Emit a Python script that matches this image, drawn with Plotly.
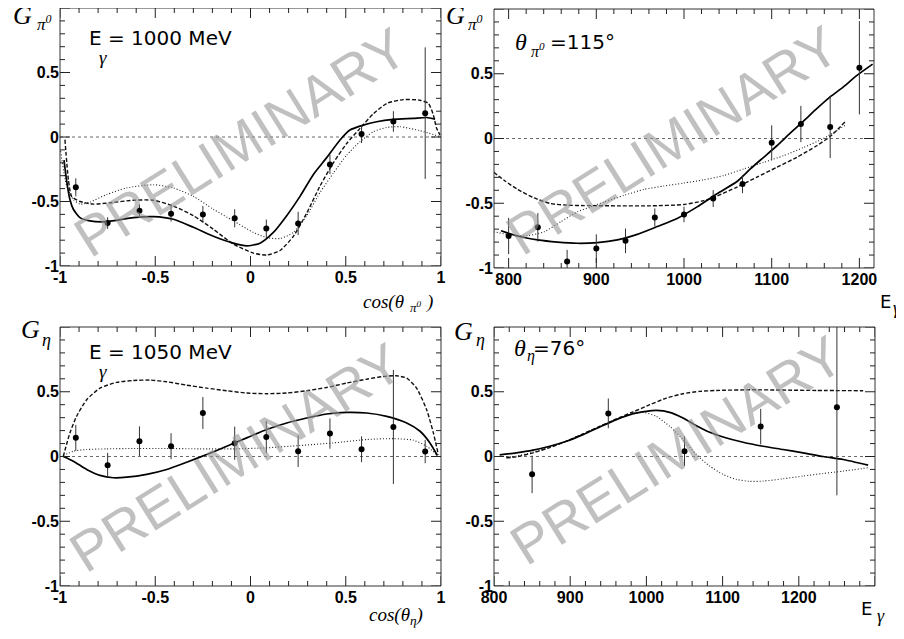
import plotly.graph_objects as go

W, H = 904, 639
OFF = 8  # page body margin offset

# ---------------- data ----------------
cos_bins = [-0.917, -0.75, -0.583, -0.417, -0.25, -0.083, 0.083, 0.25, 0.417, 0.583, 0.75, 0.917]

# Panel 1: G_pi0 vs cos(theta), E = 1000 MeV
p1_y = [-0.39, -0.667, -0.572, -0.595, -0.60, -0.63, -0.71, -0.67, -0.213, 0.023, 0.12, 0.185]
p1_err = [0.07, 0.045, 0.05, 0.06, 0.065, 0.07, 0.07, 0.09, 0.075, 0.07, 0.08, 0.51]
p1_solid_x = [-0.979, -0.965, -0.948, -0.930, -0.895, -0.843, -0.752, -0.615, -0.510, -0.405, -0.300, -0.195,
              -0.090, -0.020, 0.050, 0.120, 0.190, 0.260, 0.330, 0.400, 0.470, 0.522, 0.592, 0.662, 0.750,
              0.855, 0.925, 0.969]
p1_solid_y = [-0.18, -0.34, -0.485, -0.56, -0.625, -0.65, -0.656, -0.625, -0.618, -0.638, -0.70, -0.77,
              -0.823, -0.844, -0.823, -0.74, -0.61, -0.46, -0.29, -0.16, -0.023, 0.054, 0.092, 0.118, 0.136,
              0.144, 0.151, 0.138]
p1_dash_x = [-0.974, -0.956, -0.939, -0.895, -0.825, -0.738, -0.615, -0.510, -0.405, -0.300, -0.195, -0.090,
             0.015, 0.085, 0.155, 0.225, 0.295, 0.365, 0.435, 0.505, 0.575, 0.645, 0.715, 0.802, 0.890,
             0.934, 0.960, 0.977, 0.995]
p1_dash_y = [-0.02, -0.33, -0.46, -0.50, -0.52, -0.51, -0.49, -0.49, -0.535, -0.61, -0.715, -0.83,
             -0.90, -0.915, -0.88, -0.77, -0.59, -0.38, -0.20, -0.05, 0.067, 0.18, 0.26, 0.29, 0.285,
             0.26, 0.17, 0.067, 0.015]
p1_dot_x = [-0.997, -0.965, -0.930, -0.895, -0.843, -0.755, -0.650, -0.510, -0.405, -0.300, -0.195, -0.090,
            0.015, 0.085, 0.155, 0.225, 0.295, 0.365, 0.435, 0.505, 0.575, 0.645, 0.715, 0.785, 0.890, 0.995]
p1_dot_y = [-0.11, -0.38, -0.485, -0.52, -0.505, -0.446, -0.395, -0.37, -0.395, -0.46, -0.56, -0.65,
            -0.74, -0.78, -0.787, -0.74, -0.61, -0.43, -0.28, -0.14, -0.036, 0.041, 0.074, 0.08, 0.049, 0.003]

# Panel 2: G_pi0 vs E_gamma, theta = 115 deg
p2_x = [800, 833.3, 866.7, 900, 933.3, 966.7, 1000, 1033.3, 1066.7, 1100, 1133.3, 1166.7, 1200]
p2_y = [-0.753, -0.686, -0.95, -0.85, -0.79, -0.61, -0.587, -0.464, -0.352, -0.033, 0.112, 0.089, 0.546]
p2_err = [0.14, 0.11, 0.09, 0.11, 0.095, 0.07, 0.06, 0.065, 0.07, 0.135, 0.14, 0.24, 0.36]
p2_solid_x = [791.3, 810.2, 833.0, 855.7, 878.5, 901.2, 924.0, 946.7, 969.5, 992.2, 1015.0, 1037.7, 1060.4,
              1075.6, 1090.8, 1105.9, 1121.1, 1136.3, 1151.4, 1166.6, 1181.8, 1196.9, 1215.1]
p2_solid_y = [-0.712, -0.753, -0.783, -0.80, -0.809, -0.804, -0.783, -0.74, -0.68, -0.617, -0.528, -0.426,
              -0.332, -0.235, -0.145, -0.056, 0.041, 0.135, 0.23, 0.321, 0.398, 0.485, 0.574]
p2_dash_x = [782.9, 795.1, 810.2, 829.2, 848.1, 867.1, 886.1, 924.0, 961.9, 999.8, 1022.5, 1037.7, 1060.4,
             1083.2, 1105.9, 1128.7, 1151.4, 1166.6, 1183.7]
p2_dash_y = [-0.26, -0.324, -0.393, -0.459, -0.503, -0.515, -0.518, -0.52, -0.52, -0.51, -0.48, -0.444,
             -0.375, -0.298, -0.222, -0.145, -0.056, 0.015, 0.128]
p2_dot_x = [782.9, 802.7, 821.6, 840.6, 859.5, 878.5, 893.6, 908.8, 931.5, 954.3, 977.0, 999.8, 1022.5,
            1045.3, 1068.0, 1090.8, 1113.5, 1136.3, 1159.0, 1183.7]
p2_dot_y = [-0.72, -0.745, -0.75, -0.72, -0.643, -0.566, -0.528, -0.49, -0.44, -0.393, -0.367, -0.344,
            -0.319, -0.286, -0.235, -0.184, -0.133, -0.069, 0.0, 0.102]

# Panel 3: G_eta vs cos(theta), E = 1050 MeV
p3_y = [0.144, -0.067, 0.118, 0.08, 0.336, 0.103, 0.151, 0.041, 0.177, 0.056, 0.228, 0.038]
p3_err = [0.1, 0.095, 0.115, 0.1, 0.123, 0.128, 0.125, 0.122, 0.117, 0.1, 0.44, 0.09]
p3_solid_x = [-0.983, -0.930, -0.860, -0.790, -0.720, -0.650, -0.545, -0.440, -0.335, -0.230, -0.125, -0.020,
              0.085, 0.190, 0.295, 0.400, 0.505, 0.610, 0.715, 0.820, 0.890, 0.942, 0.981]
p3_solid_y = [0.0, -0.036, -0.10, -0.146, -0.164, -0.16, -0.138, -0.10, -0.044, 0.015, 0.079, 0.144,
              0.208, 0.259, 0.297, 0.328, 0.341, 0.336, 0.31, 0.259, 0.195, 0.105, 0.008]
p3_dash_x = [-0.983, -0.948, -0.913, -0.860, -0.790, -0.703, -0.615, -0.528, -0.440, -0.335, -0.230, -0.125,
             -0.020, 0.085, 0.190, 0.295, 0.400, 0.505, 0.610, 0.697, 0.767, 0.820, 0.872, 0.925, 0.960, 0.986]
p3_dash_y = [0.0, 0.182, 0.31, 0.438, 0.528, 0.572, 0.587, 0.59, 0.577, 0.551, 0.528, 0.508,
             0.49, 0.485, 0.49, 0.508, 0.533, 0.567, 0.597, 0.618, 0.623, 0.605, 0.528, 0.36, 0.182, 0.015]
p3_dot_x = [-0.983, -0.930, -0.860, -0.755, -0.615, -0.440, -0.265, -0.090, 0.085, 0.260, 0.435, 0.610,
            0.750, 0.855, 0.925, 0.977]
p3_dot_y = [0.008, 0.041, 0.054, 0.059, 0.062, 0.062, 0.059, 0.059, 0.067, 0.085, 0.105, 0.131,
            0.138, 0.126, 0.079, 0.015]

# Panel 4: G_eta vs E_gamma, theta = 76 deg
p4_x = [850, 950, 1050, 1150, 1250]
p4_y = [-0.138, 0.333, 0.041, 0.231, 0.38]
p4_err = [0.145, 0.115, 0.115, 0.137, 0.68]
p4_solid_x = [807.4, 829.3, 851.2, 873.1, 895.0, 916.8, 938.7, 960.6, 982.5, 1000.0, 1013.1, 1030.6, 1048.1,
              1065.6, 1083.1, 1100.6, 1126.9, 1153.1, 1179.4, 1205.7, 1231.9, 1258.2, 1291.0]
p4_solid_y = [0.013, 0.028, 0.049, 0.079, 0.118, 0.169, 0.228, 0.285, 0.331, 0.349, 0.356, 0.341, 0.297,
              0.238, 0.187, 0.151, 0.11, 0.079, 0.054, 0.028, 0.0, -0.023, -0.067]
p4_dash_x = [816.2, 829.3, 851.2, 873.1, 895.0, 916.8, 938.7, 960.6, 982.5, 1004.4, 1026.2, 1048.1, 1070.0,
             1091.9, 1135.6, 1179.4, 1223.2, 1284.4]
p4_dash_y = [-0.01, -0.003, 0.028, 0.069, 0.118, 0.174, 0.233, 0.29, 0.344, 0.40, 0.451, 0.485, 0.503,
             0.51, 0.515, 0.513, 0.51, 0.508]
p4_dot_x = [816.2, 829.3, 851.2, 873.1, 895.0, 916.8, 938.7, 960.6, 982.5, 995.6, 1013.1, 1030.6, 1048.1,
            1065.6, 1083.1, 1100.6, 1118.1, 1135.6, 1153.1, 1179.4, 1205.7, 1231.9, 1258.2, 1291.0]
p4_dot_y = [-0.005, 0.003, 0.033, 0.072, 0.12, 0.174, 0.233, 0.285, 0.328, 0.341, 0.31, 0.233, 0.131,
            0.015, -0.074, -0.138, -0.177, -0.192, -0.19, -0.172, -0.151, -0.131, -0.113, -0.087]

y_tickvals = [-1, -0.5, 0, 0.5]
y_ticktext = ["<b>-1</b>", "<b>-0.5</b>", "<b>0</b>", "<b>0.5</b>"]
cos_tickvals = [-1, -0.5, 0, 0.5, 1]
cos_ticktext = ["<b>-1</b>", "<b>-0.5</b>", "<b>0</b>", "<b>0.5</b>", "<b>1</b>"]
e_tickvals = [800, 900, 1000, 1100, 1200]
e_ticktext = ["<b>800</b>", "<b>900</b>", "<b>1000</b>", "<b>1100</b>", "<b>1200</b>"]

# ---------------- layout helpers ----------------
def clamp(v):
    return max(0.0, min(1.0, v))

def px(x):
    return (x - OFF) / W

def py(y):
    return 1 - (y - OFF) / H

def steps(lo, hi, step):
    n = int(round((hi - lo) / step))
    return [round(lo + i * step, 6) for i in range(n + 1)]

FRAME = "#222"
SANS = "Liberation Sans"
SERIF = "Liberation Serif"
MAJ, MIN = 10, 5  # tick lengths, px

fig = go.Figure()

panels = [
    # x id, y id, x px-domain, y px-domain, x range, tick vals/text, minor tick span, minor step, major step
    ("x", "y", (60, 441), (8, 266), [-1, 1], cos_tickvals, cos_ticktext, (-1, 1), 0.1, 0.5),
    ("x2", "y2", (494, 874), (9, 268), [783.33, 1216.67], e_tickvals, e_ticktext, (800, 1200), 20, 100),
    ("x3", "y3", (60, 441), (327, 586), [-1, 1], cos_tickvals, cos_ticktext, (-1, 1), 0.1, 0.5),
    ("x4", "y4", (494, 875), (327, 586), [800, 1300], e_tickvals, e_ticktext, (800, 1300), 20, 100),
]

series = [
    (cos_bins, p1_y, p1_err, p1_solid_x, p1_solid_y, p1_dash_x, p1_dash_y, p1_dot_x, p1_dot_y),
    (p2_x, p2_y, p2_err, p2_solid_x, p2_solid_y, p2_dash_x, p2_dash_y, p2_dot_x, p2_dot_y),
    (cos_bins, p3_y, p3_err, p3_solid_x, p3_solid_y, p3_dash_x, p3_dash_y, p3_dot_x, p3_dot_y),
    (p4_x, p4_y, p4_err, p4_solid_x, p4_solid_y, p4_dash_x, p4_dash_y, p4_dot_x, p4_dot_y),
]

def is_major(v, step):
    r = v / step
    return abs(r - round(r)) < 1e-6

layout_axes = {}
shapes = []
for (xa, ya, xd, yd, xr, xtv, xtt, mspan, mstep, Mstep), s in zip(panels, series):
    dx, dy, de, sx, sy, dsx, dsy, dtx, dty = s
    wpx = xd[1] - xd[0]
    hpx = yd[1] - yd[0]
    # frame
    shapes.append(dict(type="rect", xref=f"{xa} domain", yref=f"{ya} domain", x0=0, x1=1, y0=0, y1=1,
                       line=dict(color="#333", width=1), fillcolor="rgba(0,0,0,0)", layer="above"))
    # tick marks (bottom/top) along x
    for v in steps(mspan[0], mspan[1], mstep):
        L = (MAJ if is_major(v, Mstep) else MIN) / hpx
        for y0, y1 in ((0, L), (1, 1 - L)):
            shapes.append(dict(type="line", xref=xa, yref=f"{ya} domain", x0=v, x1=v, y0=y0, y1=y1,
                               line=dict(color=FRAME, width=1), layer="above"))
    # tick marks (left/right) along y
    for v in steps(-1, 1, 0.1):
        L = (MAJ if is_major(v, 0.5) else MIN) / wpx
        for x0, x1 in ((0, L), (1, 1 - L)):
            shapes.append(dict(type="line", xref=f"{xa} domain", yref=ya, x0=x0, x1=x1, y0=v, y1=v,
                               line=dict(color=FRAME, width=1), layer="above"))
    # zero line
    shapes.append(dict(type="line", xref=f"{xa} domain", x0=0, x1=1, yref=ya, y0=0, y1=0,
                       line=dict(color="#444", width=0.8, dash="3px,3px"), layer="below"))
    fig.add_trace(go.Scatter(x=dtx, y=dty, xaxis=xa, yaxis=ya, mode="lines",
                             line=dict(color="#222", width=1.1, dash="1px,2px", shape="spline", smoothing=0.6),
                             hoverinfo="skip", showlegend=False))
    fig.add_trace(go.Scatter(x=dsx, y=dsy, xaxis=xa, yaxis=ya, mode="lines",
                             line=dict(color="#111", width=1.4, dash="4px,2px", shape="spline", smoothing=0.6),
                             hoverinfo="skip", showlegend=False))
    fig.add_trace(go.Scatter(x=sx, y=sy, xaxis=xa, yaxis=ya, mode="lines",
                             line=dict(color="black", width=1.7, shape="spline", smoothing=0.6),
                             hoverinfo="skip", showlegend=False))
    fig.add_trace(go.Scatter(x=dx, y=dy, xaxis=xa, yaxis=ya, mode="markers",
                             marker=dict(color="black", size=6, symbol="circle"),
                             error_y=dict(type="data", array=de, visible=True, width=0,
                                          thickness=1, color="#333"),
                             showlegend=False))
    xkey = "xaxis" + xa[1:]
    ykey = "yaxis" + ya[1:]
    common = dict(showline=False, ticks="", showgrid=False, zeroline=False,
                  tickfont=dict(family=SANS, size=16, color="black"),
                  automargin=False)
    layout_axes[xkey] = dict(common, domain=[clamp(px(xd[0])), clamp(px(xd[1]))], anchor=ya, range=xr,
                             tickmode="array", tickvals=xtv, ticktext=xtt)
    layout_axes[ykey] = dict(common, domain=[clamp(py(yd[1])), clamp(py(yd[0]))], anchor=xa, range=[-1, 1],
                             tickmode="array", tickvals=y_tickvals, ticktext=y_ticktext)

# ---------------- text ----------------
ann = []

def text(t, x, y, family, size, italic=False, anchor="left", color="black", angle=0):
    ann.append(dict(text=(f"<i>{t}</i>" if italic else t), x=px(x), y=py(y), xref="paper", yref="paper",
                    xanchor=anchor, yanchor="middle", showarrow=False, textangle=angle,
                    font=dict(family=family, size=size, color=color)))

# watermarks
for cx, cy in [(240, 142), (672, 140), (236, 458), (676, 450)]:
    text("PRELIMINARY", cx, cy, SANS, 56, anchor="center", color="rgba(150,150,150,0.6)", angle=-32)

# y titles
text("G", 11, 15, SERIF, 26, italic=True)
text("π<sup>0</sup>", 35, 23, SERIF, 17, italic=True)
text("G", 444, 15, SERIF, 26, italic=True)
text("π<sup>0</sup>", 466, 23, SERIF, 17, italic=True)
text("G", 19, 330, SERIF, 26, italic=True)
text("η", 40, 340, SERIF, 18, italic=True)
text("G", 452, 331, SERIF, 26, italic=True)
text("η", 474, 340, SERIF, 18, italic=True)

# panel labels
text("E", 87, 38, "DejaVu Sans", 20)
text("= 1000 MeV", 106, 38, "DejaVu Sans", 20)
text("γ", 97, 57, SERIF, 19, italic=True)
text("E", 87, 352, "DejaVu Sans", 20)
text("= 1050 MeV", 106, 352, "DejaVu Sans", 20)
text("γ", 97, 371, SERIF, 19, italic=True)
text("θ", 513, 42, SERIF, 24, italic=True)
text("π<sup>0</sup>", 529, 50, SERIF, 16, italic=True)
text("=115°", 548, 42, "DejaVu Sans", 20)
text("θ", 512, 348, SERIF, 24, italic=True)
text("η", 525, 356, SERIF, 16, italic=True)
text("=76°", 531, 348, "DejaVu Sans", 20)

# x titles
text("cos(θ", 361, 302, SERIF, 19, italic=True)
text("π<sup>0</sup>", 408, 307, SERIF, 13, italic=True)
text(")", 424, 302, SERIF, 19, italic=True)
text("cos(θ<sub>η</sub>)", 367, 616, SERIF, 19, italic=True)
text("E", 878, 301, "DejaVu Sans", 18)
text("γ", 891, 308, SERIF, 18, italic=True)
text("E", 859, 608, "DejaVu Sans", 18)
text("γ", 875, 616, SERIF, 18, italic=True)

fig.update_layout(width=W, height=H, margin=dict(l=0, r=0, t=0, b=0, pad=0),
                  paper_bgcolor="white", plot_bgcolor="white",
                  showlegend=False, shapes=shapes, annotations=ann, **layout_axes)

fig.write_html("out.html")
